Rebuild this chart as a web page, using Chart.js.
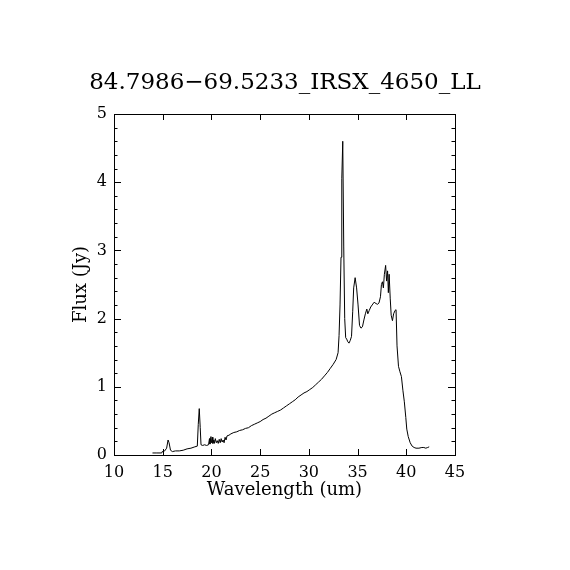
<!DOCTYPE html>
<html>
<head>
<meta charset="utf-8">
<script src="https://cdn.jsdelivr.net/npm/chart.js@4"></script>
<style>
  html, body { margin: 0; padding: 0; background: #fff; }
  #wrap { width: 570px; height: 570px; }
</style>
</head>
<body>
<div id="wrap"><canvas id="spec" width="570" height="570"></canvas></div>
<script>
// spectrum
var wavelength = [
  13.95, 14.4, 14.9, 14.95, 15.2, 15.4, 15.55, 15.65, 15.8, 16.0,
  16.3, 16.7, 17.1, 17.5, 17.9, 18.3, 18.55, 18.65, 18.75, 18.85,
  18.93, 19.1, 19.3, 19.5, 19.7, 19.8, 19.85, 19.95, 20.0, 20.1,
  20.15, 20.25, 20.3, 20.4, 20.5, 20.6, 20.7, 20.8, 20.9, 21.0,
  21.1, 21.2, 21.3, 21.4, 21.5, 21.6, 21.8, 22.0, 22.3, 22.6,
  22.9, 23.2, 23.5, 23.8, 24.1, 24.4, 24.7, 25.0, 25.3, 25.6,
  25.9, 26.2, 26.5, 26.8, 27.1, 27.4, 27.7, 28.0, 28.3, 28.6,
  28.9, 29.2, 29.5, 29.8, 30.1, 30.4, 30.7, 31.0, 31.3, 31.6,
  31.9, 32.2, 32.5, 32.8, 33.0, 33.1, 33.2, 33.3, 33.38, 33.48,
  33.58, 33.68, 33.78, 33.88, 34.0, 34.12, 34.25, 34.38, 34.5, 34.6,
  34.75, 34.9, 35.05, 35.2, 35.35, 35.5, 35.65, 35.8, 35.95, 36.05,
  36.2, 36.35, 36.5, 36.7, 36.9, 37.05, 37.2, 37.35, 37.45, 37.55,
  37.65, 37.75, 37.88, 37.98, 38.08, 38.16, 38.24, 38.35, 38.45, 38.58,
  38.7, 38.85, 38.95, 39.05, 39.2, 39.35, 39.5, 39.65, 39.8, 39.95,
  40.05, 40.2, 40.4, 40.6, 40.8, 41.0, 41.3, 41.6, 41.8, 42.0,
  42.2, 42.35
];
var flux = [
  0.03, 0.03, 0.03, 0.05, 0.06, 0.10, 0.22, 0.18, 0.07, 0.05,
  0.06, 0.06, 0.07, 0.09, 0.10, 0.12, 0.13, 0.45, 0.68, 0.40,
  0.15, 0.14, 0.15, 0.14, 0.15, 0.24, 0.16, 0.27, 0.18, 0.26,
  0.17, 0.22, 0.17, 0.24, 0.18, 0.21, 0.17, 0.23, 0.18, 0.24,
  0.19, 0.22, 0.18, 0.26, 0.22, 0.28, 0.29, 0.31, 0.33, 0.34,
  0.36, 0.37, 0.39, 0.40, 0.43, 0.45, 0.47, 0.49, 0.52, 0.54,
  0.57, 0.60, 0.62, 0.64, 0.66, 0.69, 0.72, 0.75, 0.78, 0.81,
  0.85, 0.88, 0.91, 0.93, 0.96, 0.99, 1.03, 1.07, 1.11, 1.16,
  1.21, 1.27, 1.33, 1.40, 1.50, 1.75, 2.20, 2.90, 4.05, 4.60,
  3.05, 2.00, 1.72, 1.70, 1.66, 1.64, 1.68, 1.74, 2.10, 2.45,
  2.60, 2.45, 2.20, 1.90, 1.86, 1.88, 1.98, 2.07, 2.14, 2.07,
  2.12, 2.17, 2.20, 2.24, 2.22, 2.21, 2.23, 2.32, 2.50, 2.54,
  2.45, 2.65, 2.78, 2.55, 2.70, 2.38, 2.65, 2.30, 2.05, 1.97,
  2.07, 2.12, 2.13, 1.60, 1.30, 1.22, 1.15, 0.95, 0.78, 0.55,
  0.38, 0.27, 0.18, 0.13, 0.11, 0.10, 0.10, 0.11, 0.11, 0.10,
  0.11, 0.12
];
var xTicks = [10, 15, 20, 25, 30, 35, 40, 45];
var yTicks = [0, 1, 2, 3, 4, 5];
var yMinor = 0.2;

var FONT = 'DejaVu Serif';

var points = wavelength.map(function (w, i) { return {x: w, y: flux[i]}; });

// frame with inward ticks on all four sides
var frameTicks = {
  id: 'frameTicks',
  afterDraw: function (chart) {
    var ctx = chart.ctx, a = chart.chartArea;
    var xs = chart.scales.x, ys = chart.scales.y;
    ctx.save();
    ctx.strokeStyle = '#000';
    ctx.lineWidth = 1;
    ctx.strokeRect(a.left + 0.5, a.top + 0.5, a.right - a.left, a.bottom - a.top);
    ctx.beginPath();
    xTicks.forEach(function (v) {
      var px = Math.round(xs.getPixelForValue(v)) + 0.5;
      ctx.moveTo(px, a.bottom); ctx.lineTo(px, a.bottom - 6);
      ctx.moveTo(px, a.top); ctx.lineTo(px, a.top + 6);
    });
    for (var k = 0; k <= 25; k++) {
      var v = k * yMinor;
      var len = (k % 5 === 0) ? 7 : 3.5;
      var py = Math.round(ys.getPixelForValue(v)) + 0.5;
      ctx.moveTo(a.left, py); ctx.lineTo(a.left + len, py);
      ctx.moveTo(a.right, py); ctx.lineTo(a.right - len, py);
    }
    ctx.stroke();
    ctx.restore();
  }
};

new Chart('spec', {
  type: 'line',
  data: {
    datasets: [{
      data: points,
      borderColor: '#000',
      borderWidth: 1,
      pointRadius: 0,
      tension: 0,
      fill: false
    }]
  },
  options: {
    responsive: false,
    animation: false,
    layout: {padding: 0},
    plugins: {
      legend: {display: false},
      tooltip: {enabled: false},
      title: {
        display: true,
        text: '84.7986\u221269.5233_IRSX_4650_LL',
        color: '#000',
        font: {family: FONT, size: 23, weight: 'normal', lineHeight: 1.2},
        padding: {top: 69.2, bottom: 17.2}
      }
    },
    scales: {
      x: {
        type: 'linear',
        min: 10, max: 45,
        grid: {display: false, drawTicks: false},
        border: {display: false},
        afterBuildTicks: function (s) { s.ticks = xTicks.map(function (v) { return {value: v}; }); },
        afterFit: function (s) { s.height = 115; },
        ticks: {
          color: '#000', padding: 8, maxRotation: 0,
          font: {family: FONT, size: 16}
        },
        title: {
          display: true, text: 'Wavelength (um)', color: '#000',
          font: {family: FONT, size: 18, lineHeight: 1.2},
          padding: {top: 0, bottom: 69.2}
        }
      },
      y: {
        type: 'linear',
        min: 0, max: 5,
        grid: {display: false, drawTicks: false},
        border: {display: false},
        afterBuildTicks: function (s) { s.ticks = yTicks.map(function (v) { return {value: v}; }); },
        afterFit: function (s) { s.width = 114; },
        ticks: {
          color: '#000', padding: 7,
          font: {family: FONT, size: 16}
        },
        title: {
          display: true, text: 'Flux (Jy)', color: '#000',
          font: {family: FONT, size: 18, lineHeight: 1.2},
          padding: {top: 70.2, bottom: 0}
        }
      },
      // empty right-hand strip so the plot box ends at the same place
      yRight: {
        type: 'linear',
        position: 'right',
        min: 0, max: 5,
        grid: {display: false, drawTicks: false},
        border: {display: false},
        ticks: {display: false},
        afterFit: function (s) { s.width = 115; }
      }
    }
  },
  plugins: [frameTicks]
});
</script>
</body>
</html>
